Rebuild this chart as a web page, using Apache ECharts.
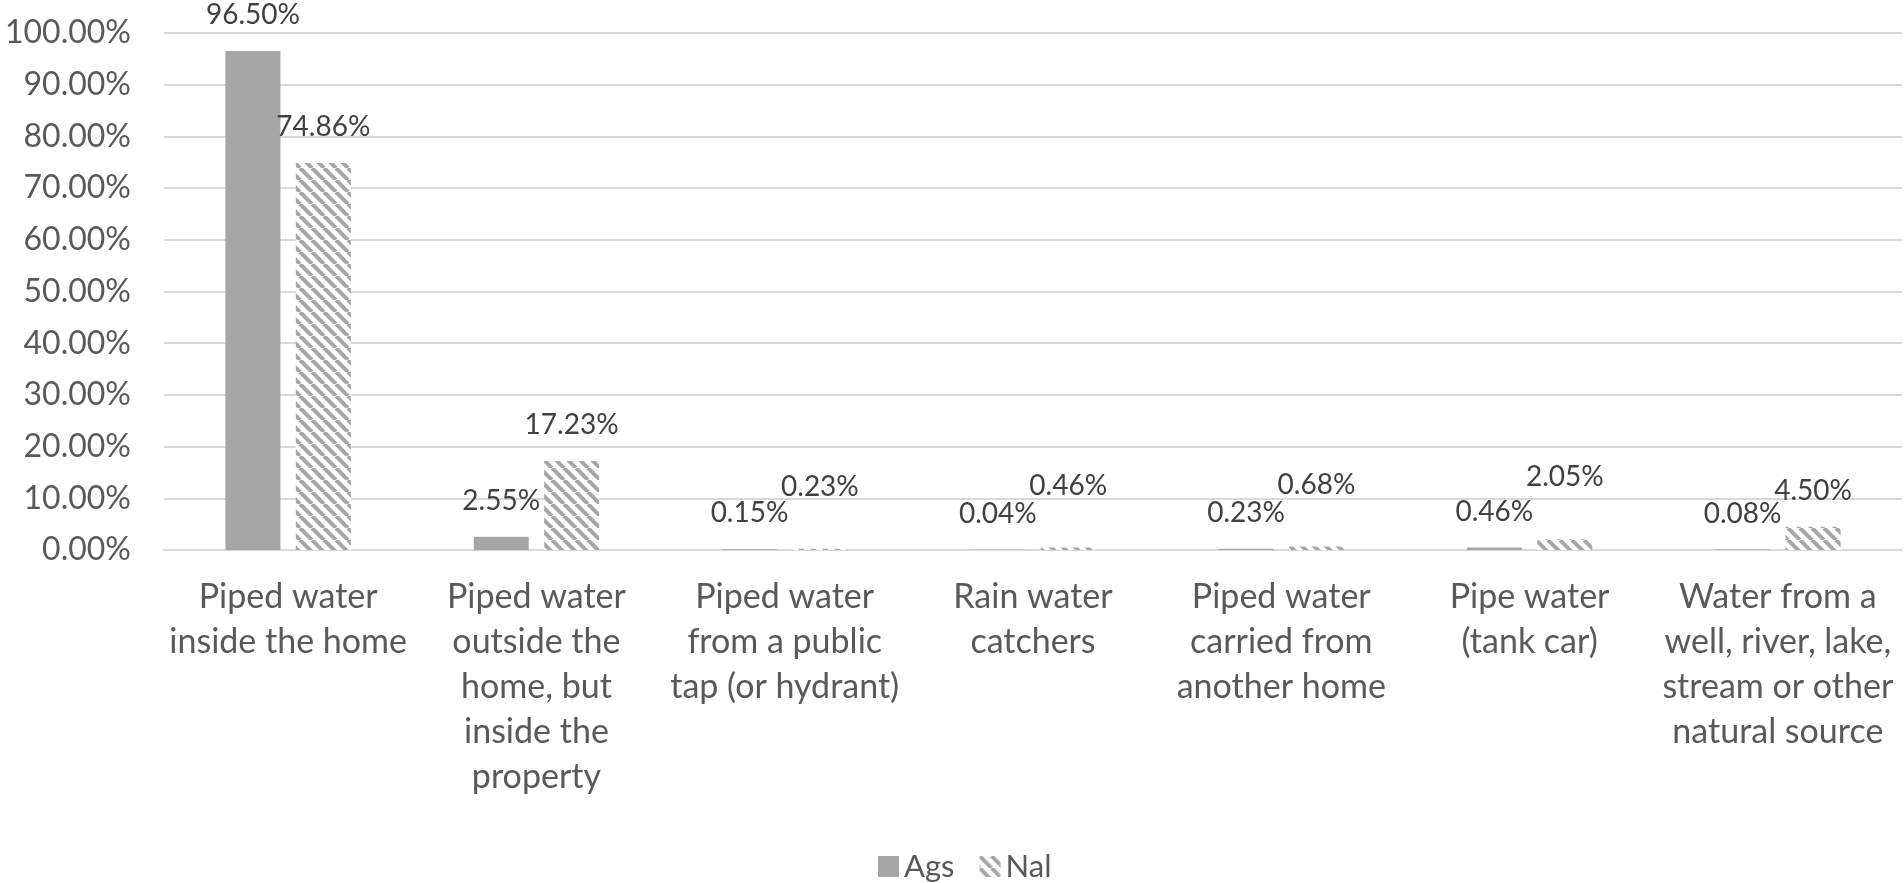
<!DOCTYPE html>
<html>
<head>
<meta charset="utf-8">
<script src="https://cdn.jsdelivr.net/npm/echarts@6/dist/echarts.min.js"></script>
<style>
  html, body { margin: 0; padding: 0; background: #fff; }
  #main { width: 1904px; height: 883px; }
</style>
</head>
<body>
<div id="main"></div>
<script>
// categories and values (percent)
var categories = [
  'Piped water\ninside the home',
  'Piped water\noutside the\nhome, but\ninside the\nproperty',
  'Piped water\nfrom a public\ntap (or hydrant)',
  'Rain water\ncatchers',
  'Piped water\ncarried from\nanother home',
  'Pipe water\n(tank car)',
  'Water from a\nwell, river, lake,\nstream or other\nnatural source'
];
var seriesNames = ['Ags', 'Nal'];
var agsValues = [96.50, 2.55, 0.15, 0.04, 0.23, 0.46, 0.08];
var nalValues = [74.86, 17.23, 0.23, 0.46, 0.68, 2.05, 4.50];

var textColor = '#595959';
var gridColor = '#d9d9d9';
var barGray = '#a6a6a6';
var fontFamily = 'Lato';

// wide downward diagonal hatch like the Excel pattern
function makeHatch() {
  var p = 12;
  var c = document.createElement('canvas');
  c.width = p; c.height = p;
  var ctx = c.getContext('2d');
  ctx.fillStyle = '#ffffff';
  ctx.fillRect(0, 0, p, p);
  ctx.strokeStyle = barGray;
  ctx.lineWidth = 4;
  [-p, 0, p].forEach(function (x0) {
    ctx.beginPath();
    ctx.moveTo(x0, 0);
    ctx.lineTo(x0 + p, p);
    ctx.stroke();
  });
  return c;
}
var hatch = { image: makeHatch(), repeat: 'repeat' };

var labelStyle = {
  show: true,
  position: 'top',
  distance: 22,
  fontFamily: fontFamily,
  fontSize: 28,
  color: '#404040',
  formatter: function (p) { return p.value.toFixed(2) + '%'; }
};

// Nal labels get lifted where they would sit on top of the Ags label
var nalData = nalValues.map(function (v, i) {
  if (v < 3 && agsValues[i] < 3) {
    return { value: v, label: { offset: [0, -26] } };
  }
  return v;
});

var myChart = echarts.init(document.getElementById('main'));
var option = {
  backgroundColor: '#ffffff',
  animation: false,
  textStyle: { fontFamily: fontFamily },
  grid: {
    left: 164,
    right: 2,
    top: 33,
    bottom: 333
  },
  legend: {
    data: seriesNames,
    left: 873,
    top: 846,
    itemWidth: 21,
    itemHeight: 21,
    itemGap: 25,
    icon: 'rect',
    textStyle: { fontFamily: fontFamily, fontSize: 31, color: textColor }
  },
  xAxis: {
    type: 'category',
    data: categories,
    axisTick: { show: false },
    axisLine: { show: true, lineStyle: { color: gridColor, width: 2 } },
    axisLabel: {
      interval: 0,
      margin: 25,
      fontFamily: fontFamily,
      fontSize: 34,
      lineHeight: 45,
      color: textColor,
      align: 'center'
    }
  },
  yAxis: {
    type: 'value',
    min: 0,
    max: 100,
    interval: 10,
    axisLine: { show: false },
    axisTick: { show: false },
    splitLine: { show: true, lineStyle: { color: gridColor, width: 2 } },
    axisLabel: {
      margin: 33,
      fontFamily: fontFamily,
      fontSize: 32,
      color: textColor,
      formatter: function (v) { return v.toFixed(2) + '%'; }
    }
  },
  series: [
    {
      name: seriesNames[0],
      type: 'bar',
      data: agsValues,
      barWidth: 55,
      barGap: '28%',
      itemStyle: { color: barGray },
      label: labelStyle
    },
    {
      name: seriesNames[1],
      type: 'bar',
      data: nalData,
      barWidth: 55,
      itemStyle: { color: hatch },
      label: labelStyle
    }
  ]
};
myChart.setOption(option);
</script>
</body>
</html>
